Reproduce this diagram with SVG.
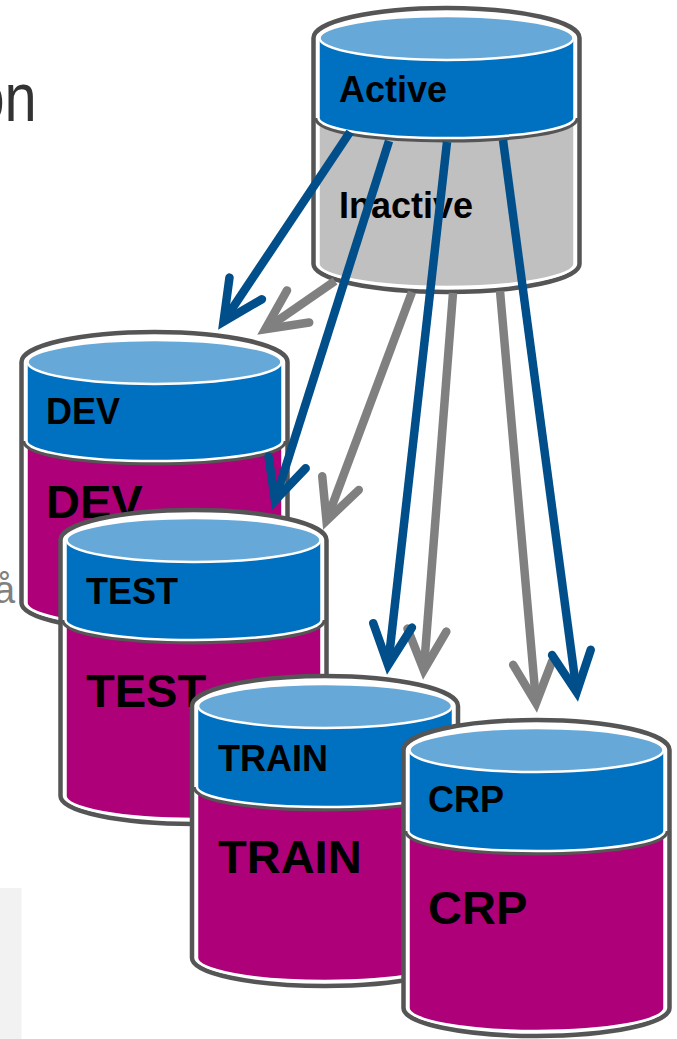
<svg xmlns="http://www.w3.org/2000/svg" width="677" height="1039" viewBox="0 0 677 1039">
<defs>
<style>
.sil{fill:#ffffff;stroke:#555555;stroke-width:4.5}
.darkarc{fill:none;stroke:#555555;stroke-width:9}
.body{fill:#AE0078;stroke:#ffffff;stroke-width:2.5}
.bodyg{fill:#C0C0C0;stroke:#ffffff;stroke-width:2.5}
.band{fill:#0070C0;stroke:#ffffff;stroke-width:2.5}
.lid{fill:#66A8D8;stroke:#ffffff;stroke-width:2.5}
.t{font-family:"Liberation Sans",Arial,sans-serif;font-weight:bold;fill:#000000}
.s{font-size:36px}
.b{font-size:47px}
.cb{fill:none;stroke:#004F8A;stroke-width:8.5}
.cg{fill:none;stroke:#808080;stroke-width:8.5}
</style>
<marker id="hb" markerUnits="userSpaceOnUse" orient="auto" overflow="visible" markerWidth="60" markerHeight="60" refX="0" refY="0" viewBox="-50 -30 60 60">
<path d="M-40,-19.5 L0,0 L-40,19.5" fill="none" stroke="#004F8A" stroke-width="8.5" stroke-linecap="round" stroke-linejoin="miter"/>
</marker>
<marker id="hg" markerUnits="userSpaceOnUse" orient="auto" overflow="visible" markerWidth="60" markerHeight="60" refX="0" refY="0" viewBox="-50 -30 60 60">
<path d="M-40,-19.5 L0,0 L-40,19.5" fill="none" stroke="#808080" stroke-width="8.5" stroke-linecap="round" stroke-linejoin="miter"/>
</marker>
</defs>
<rect width="677" height="1039" fill="#ffffff"/>
<rect x="0" y="888" width="21.5" height="151" fill="#F2F2F2"/>
<text x="-32.5" y="121" transform="scale(0.85,1)" font-family="'Liberation Sans',Arial,sans-serif" font-size="68" fill="#333333">on</text>
<text x="-6" y="603" font-family="'Liberation Sans',Arial,sans-serif" font-size="38" fill="#808080">å</text>

<g id="active">
<path class="sil" d="M313.5,38 A133,30 0 0 1 579.5,38 L579.5,264 A133,28 0 0 1 313.5,264 Z"/>
<path class="bodyg" d="M318.5,118 L318.5,264 A128,23 0 0 0 574.5,264 L574.5,118 Z"/>
<path class="darkarc" d="M318.5,118 A128,20 0 0 0 574.5,118"/>
<path class="band" d="M318.5,38 L318.5,118 A128,20 0 0 0 574.5,118 L574.5,38 Z"/>
<ellipse class="lid" cx="446.5" cy="38" rx="127" ry="22"/>
<text class="t s" x="339" y="102">Active</text>
<text class="t s" x="339" y="218">Inactive</text>
</g>

<g id="dev">
<path class="sil" d="M21.5,362 A133,30 0 0 1 287.5,362 L287.5,603 A133,28 0 0 1 21.5,603 Z"/>
<path class="body" d="M26.5,441 L26.5,603 A128,23 0 0 0 282.5,603 L282.5,441 Z"/>
<path class="darkarc" d="M26.5,441 A128,20 0 0 0 282.5,441"/>
<path class="band" d="M26.5,362 L26.5,441 A128,20 0 0 0 282.5,441 L282.5,362 Z"/>
<ellipse class="lid" cx="154.5" cy="362" rx="127" ry="22"/>
<text class="t s" x="46" y="424">DEV</text>
<text class="t b" x="46" y="518">DEV</text>
</g>

<g id="test">
<path class="sil" d="M60.5,540 A133,30 0 0 1 326.5,540 L326.5,796 A133,28 0 0 1 60.5,796 Z"/>
<path class="body" d="M65.5,620 L65.5,796 A128,23 0 0 0 321.5,796 L321.5,620 Z"/>
<path class="darkarc" d="M65.5,620 A128,20 0 0 0 321.5,620"/>
<path class="band" d="M65.5,540 L65.5,620 A128,20 0 0 0 321.5,620 L321.5,540 Z"/>
<ellipse class="lid" cx="193.5" cy="540" rx="127" ry="22"/>
<text class="t s" x="86" y="604">TEST</text>
<text class="t b" x="86" y="707">TEST</text>
</g>

<g id="train">
<path class="sil" d="M192,706 A133,30 0 0 1 458,706 L458,958 A133,28 0 0 1 192,958 Z"/>
<path class="body" d="M197,787 L197,958 A128,23 0 0 0 453,958 L453,787 Z"/>
<path class="darkarc" d="M197,787 A128,20 0 0 0 453,787"/>
<path class="band" d="M197,706 L197,787 A128,20 0 0 0 453,787 L453,706 Z"/>
<ellipse class="lid" cx="325" cy="706" rx="127" ry="22"/>
<text class="t s" x="218" y="771">TRAIN</text>
<text class="t b" x="218" y="873">TRAIN</text>
</g>

<g id="crp">
<path class="sil" d="M403.5,750 A133,30 0 0 1 669.5,750 L669.5,1008 A133,28 0 0 1 403.5,1008 Z"/>
<path class="body" d="M408.5,831 L408.5,1008 A128,23 0 0 0 664.5,1008 L664.5,831 Z"/>
<path class="darkarc" d="M408.5,831 A128,20 0 0 0 664.5,831"/>
<path class="band" d="M408.5,750 L408.5,831 A128,20 0 0 0 664.5,831 L664.5,750 Z"/>
<ellipse class="lid" cx="536.5" cy="750" rx="127" ry="22"/>
<text class="t s" x="428" y="812">CRP</text>
<text class="t b" x="428" y="924">CRP</text>
</g>

<g id="connectors">
<path class="cg" marker-end="url(#hg)" d="M335,281 L265.2,329.2"/>
<path class="cg" marker-end="url(#hg)" d="M412,292 L326.5,520.6"/>
<path class="cg" marker-end="url(#hg)" d="M453,293 L423.8,670"/>
<path class="cg" marker-end="url(#hg)" d="M500,291 L536.1,703"/>
<path class="cb" marker-end="url(#hb)" d="M350,132 L223.5,321.7"/>
<path class="cb" marker-end="url(#hb)" d="M389,141 L275,500.5"/>
<path class="cb" marker-end="url(#hb)" d="M447,142 L388.1,665.1"/>
<path class="cb" marker-end="url(#hb)" d="M503,140 L576.7,692.1"/>
</g>
</svg>
